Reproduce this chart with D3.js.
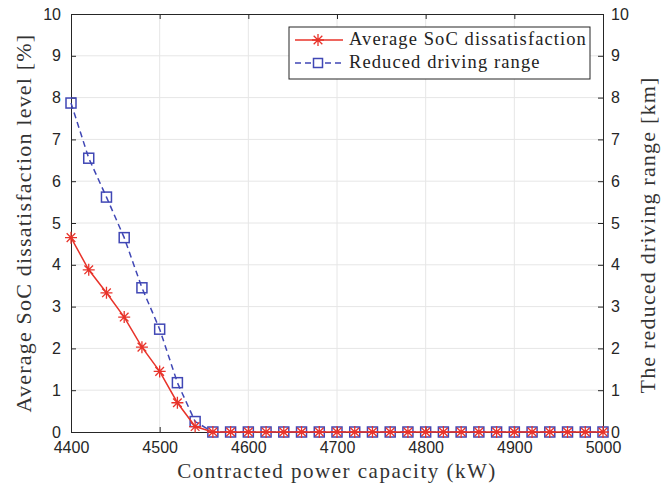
<!DOCTYPE html>
<html>
<head>
<meta charset="utf-8">
<script src="https://cdn.jsdelivr.net/npm/d3@7"></script>
<style>
  html, body { margin: 0; padding: 0; background: #fff; }
  svg { display: block; }
  .tick text { font-family: "Liberation Sans", Arial, sans-serif; font-size: 16px; fill: #262626; }
  .lbl { font-family: "Liberation Serif", serif; font-size: 22px; letter-spacing: 1.2px; fill: #333; }
  .xlbl { font-size: 21px; letter-spacing: 1.5px; }
  .leg { font-family: "Liberation Serif", serif; font-size: 18.5px; letter-spacing: 1.1px; fill: #222; }
</style>
</head>
<body>
<script>
// Contracted power capacity (kW)
const capacity = d3.range(4400, 5001, 20);
// Average SoC dissatisfaction level [%]
const socDissatisfaction = [4.65, 3.88, 3.33, 2.75, 2.03, 1.45, 0.70, 0.13,
  0, 0, 0, 0, 0, 0, 0, 0, 0, 0, 0, 0, 0, 0, 0, 0, 0, 0, 0, 0, 0, 0, 0];
// Reduced driving range [km]
const reducedRange = [7.87, 6.55, 5.62, 4.65, 3.45, 2.46, 1.18, 0.25,
  0, 0, 0, 0, 0, 0, 0, 0, 0, 0, 0, 0, 0, 0, 0, 0, 0, 0, 0, 0, 0, 0, 0];
const xTicks = [4400, 4500, 4600, 4700, 4800, 4900, 5000];
const yTicks = d3.range(0, 11, 1);
const seriesNames = ["Average SoC dissatisfaction", "Reduced driving range"];

const W = 669, H = 488;
const m = { left: 71, right: 66, top: 14, bottom: 56 };
const red = "#e8332a", blue = "#4047b5";

const svg = d3.select("body").append("svg").attr("width", W).attr("height", H);

const x = d3.scaleLinear().domain([4400, 5000]).range([m.left, W - m.right]);
const yL = d3.scaleLinear().domain([0, 10]).range([H - m.bottom, m.top]);
const yR = d3.scaleLinear().domain([0, 10]).range([H - m.bottom, m.top]);

// grid
const grid = svg.append("g").attr("stroke", "#e6e6e6").attr("stroke-width", 1);
grid.selectAll(".gx").data(xTicks.slice(1, -1)).join("line")
  .attr("x1", d => x(d)).attr("x2", d => x(d))
  .attr("y1", m.top).attr("y2", H - m.bottom);
grid.selectAll(".gy").data(yTicks.slice(1, -1)).join("line")
  .attr("x1", m.left).attr("x2", W - m.right)
  .attr("y1", d => yL(d)).attr("y2", d => yL(d));

// axes
const axisStyle = g => {
  g.select(".domain").attr("stroke", "#262626").attr("stroke-width", 1);
  g.selectAll(".tick line").attr("stroke", "#262626");
};
svg.append("g").attr("transform", `translate(0,${H - m.bottom})`)
  .call(d3.axisBottom(x).tickValues(xTicks).tickFormat(d3.format("d"))
    .tickSize(-5).tickPadding(10).tickSizeOuter(0))
  .call(axisStyle);
svg.append("g").attr("transform", `translate(0,${m.top})`)
  .call(d3.axisTop(x).tickValues(xTicks).tickSize(-5).tickFormat("").tickSizeOuter(0))
  .call(axisStyle);
svg.append("g").attr("transform", `translate(${m.left},0)`)
  .call(d3.axisLeft(yL).tickValues(yTicks).tickSize(-5).tickPadding(10).tickSizeOuter(0))
  .call(axisStyle);
svg.append("g").attr("transform", `translate(${W - m.right},0)`)
  .call(d3.axisRight(yR).tickValues(yTicks).tickSize(-5).tickPadding(8).tickSizeOuter(0))
  .call(axisStyle);

// axis labels
svg.append("text").attr("class", "lbl xlbl").attr("text-anchor", "middle")
  .attr("x", (m.left + W - m.right) / 2).attr("y", H - 10)
  .text("Contracted power capacity (kW)");
svg.append("text").attr("class", "lbl").attr("text-anchor", "middle")
  .attr("transform", `translate(31,${(m.top + H - m.bottom) / 2}) rotate(-90)`)
  .text("Average SoC dissatisfaction level [%]");
svg.append("text").attr("class", "lbl").attr("text-anchor", "middle")
  .attr("transform", `translate(655,${(m.top + H - m.bottom) / 2 + 12}) rotate(-90)`)
  .text("The reduced driving range [km]");

// markers
function asterisk(g, cx, cy, r) {
  const p = d3.path();
  p.moveTo(cx - r, cy); p.lineTo(cx + r, cy);
  p.moveTo(cx, cy - r); p.lineTo(cx, cy + r);
  const d = r * 0.72;
  p.moveTo(cx - d, cy - d); p.lineTo(cx + d, cy + d);
  p.moveTo(cx - d, cy + d); p.lineTo(cx + d, cy - d);
  g.append("path").attr("d", p.toString()).attr("stroke", red)
    .attr("stroke-width", 1.3).attr("fill", "none");
}
function square(g, cx, cy, s) {
  g.append("rect").attr("x", cx - s / 2).attr("y", cy - s / 2)
    .attr("width", s).attr("height", s)
    .attr("fill", "none").attr("stroke", blue).attr("stroke-width", 1.5);
}

const plot = svg.append("g");
const lineB = d3.line().x((d, i) => x(capacity[i])).y(d => yR(d));
const lineR = d3.line().x((d, i) => x(capacity[i])).y(d => yL(d));

plot.append("path").datum(reducedRange).attr("d", lineB)
  .attr("fill", "none").attr("stroke", blue).attr("stroke-width", 1.5)
  .attr("stroke-dasharray", "6,4");
const mb = plot.append("g");
reducedRange.forEach((v, i) => square(mb, x(capacity[i]), yR(v), 10));

plot.append("path").datum(socDissatisfaction).attr("d", lineR)
  .attr("fill", "none").attr("stroke", red).attr("stroke-width", 1.5);
const mr = plot.append("g");
socDissatisfaction.forEach((v, i) => asterisk(mr, x(capacity[i]), yL(v), 6));

// legend
const lg = svg.append("g").attr("transform", "translate(289,27)");
lg.append("rect").attr("width", 301).attr("height", 52)
  .attr("fill", "#fff").attr("stroke", "#262626").attr("stroke-width", 1);
lg.append("line").attr("x1", 6).attr("x2", 54).attr("y1", 13).attr("y2", 13)
  .attr("stroke", red).attr("stroke-width", 1.5);
asterisk(lg, 29, 13, 6);
lg.append("line").attr("x1", 6).attr("x2", 54).attr("y1", 36).attr("y2", 36)
  .attr("stroke", blue).attr("stroke-width", 1.5).attr("stroke-dasharray", "6,4");
lg.append("rect").attr("x", 24).attr("y", 31).attr("width", 10).attr("height", 10)
  .attr("fill", "#fff").attr("stroke", "none");
square(lg, 29, 36, 9);
lg.selectAll("text.leg").data(seriesNames).join("text").attr("class", "leg")
  .attr("x", 60).attr("y", (d, i) => 18 + i * 23).text(d => d);
</script>
</body>
</html>
